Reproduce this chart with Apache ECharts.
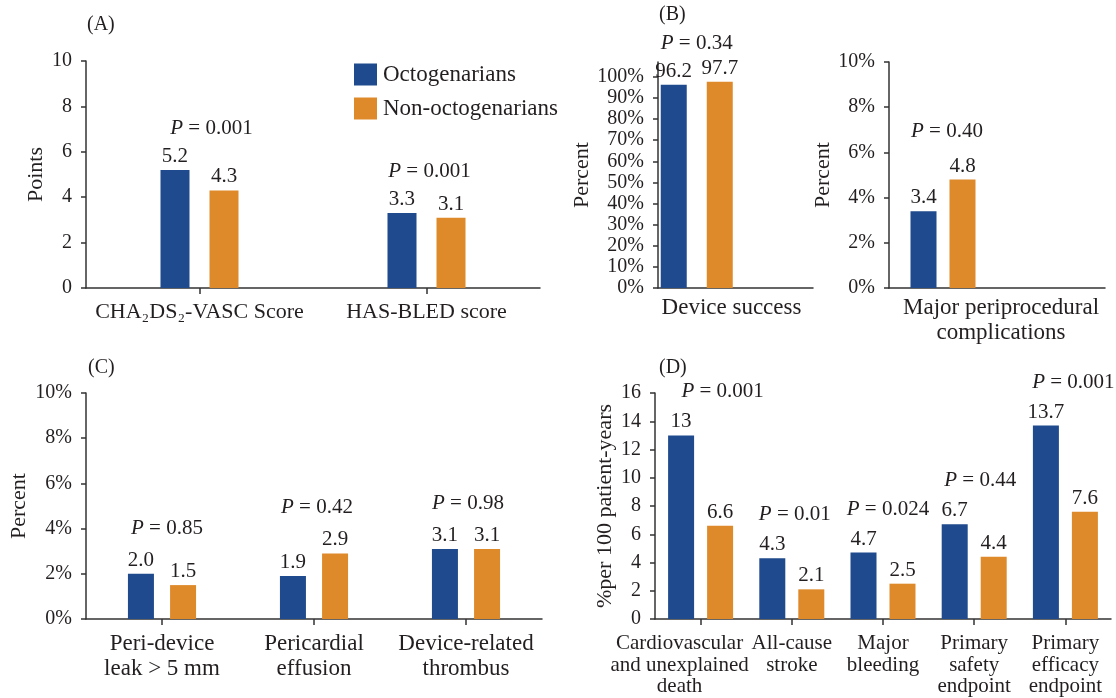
<!DOCTYPE html>
<html>
<head>
<meta charset="utf-8">
<script src="https://cdn.jsdelivr.net/npm/echarts@6/dist/echarts.min.js"></script>
<style>
html,body{margin:0;padding:0;background:#fff;}
#chart{width:1116px;height:698px;}
</style>
</head>
<body>
<div id="chart"></div>
<script>
// ---- Data ----
const seriesNames = ['Octogenarians', 'Non-octogenarians'];

const catsA = ['CHA₂DS₂-VASC Score', 'HAS-BLED score'];
const octoA = [5.2, 3.3];
const nonA = [4.3, 3.1];
const pA = ['0.001', '0.001'];
const ticksA = [0, 2, 4, 6, 8, 10];

const catsB1 = ['Device success'];
const octoB1 = [96.2];
const nonB1 = [97.7];
const pB1 = ['0.34'];
const ticksB1 = [0, 10, 20, 30, 40, 50, 60, 70, 80, 90, 100];

const catsB2 = ['Major periprocedural\ncomplications'];
const octoB2 = [3.4];
const nonB2 = [4.8];
const pB2 = ['0.40'];
const ticksB2 = [0, 2, 4, 6, 8, 10];

const catsC = ['Peri-device\nleak > 5 mm', 'Pericardial\neffusion', 'Device-related\nthrombus'];
const octoC = [2.0, 1.9, 3.1];
const nonC = [1.5, 2.9, 3.1];
const pC = ['0.85', '0.42', '0.98'];
const ticksC = [0, 2, 4, 6, 8, 10];

const catsD = ['Cardiovascular\nand unexplained\ndeath', 'All-cause\nstroke', 'Major\nbleeding', 'Primary\nsafety\nendpoint', 'Primary\nefficacy\nendpoint'];
const octoD = [13, 4.3, 4.7, 6.7, 13.7];
const nonD = [6.6, 2.1, 2.5, 4.4, 7.6];
const pD = ['0.001', '0.01', '0.024', '0.44', '0.001'];
const ticksD = [0, 2, 4, 6, 8, 10, 12, 14, 16];

// ---- Style ----
const FONT = '"Liberation Serif", "DejaVu Serif", serif';
const TXT = '#231f20';
const AX = '#333333';
const BLUE = '#1f4a8d';
const ORANGE = '#df8a2a';
const TICK_FS = 20;
const VAL_FS = 21;

const grids = [], xAxes = [], yAxes = [], series = [];

function panel(cfg) {
  const i = grids.length;
  grids.push(cfg.grid);
  const single = cfg.cats.length === 1;
  const catData = single ? [cfg.cats[0], ''] : cfg.cats.map((c, k) =>
    (cfg.labelPad && cfg.labelPad[k]) ? { value: c, textStyle: { padding: cfg.labelPad[k] } } : c);
  xAxes.push({
    type: 'category', gridIndex: i,
    data: catData,
    axisLine: { show: true, lineStyle: { color: AX, width: 1.5 } },
    axisTick: { show: !single, alignWithLabel: true, length: 6, lineStyle: { color: AX, width: 1.5 } },
    axisLabel: { show: !single, interval: 0, margin: cfg.xMargin || 12, fontSize: cfg.catFs, color: TXT, fontFamily: FONT, lineHeight: cfg.lineHeight || 25 },
    name: single ? cfg.cats[0] : '',
    nameLocation: 'middle', nameGap: cfg.xNameGap || 7,
    nameTextStyle: { fontSize: cfg.catFs, color: TXT, fontFamily: FONT, lineHeight: 25, verticalAlign: 'top', padding: cfg.xNamePad || 0 }
  });
  const ticks = cfg.ticks;
  yAxes.push({
    type: 'value', gridIndex: i, min: 0, max: cfg.max,
    interval: ticks[1] - ticks[0],
    axisLine: { show: true, lineStyle: { color: AX, width: 1.5 } },
    axisTick: { show: true, length: 5, lineStyle: { color: AX, width: 1.5 }, customValues: ticks },
    axisLabel: { fontSize: TICK_FS, color: TXT, fontFamily: FONT, margin: 14, customValues: ticks,
      formatter: v => v + (cfg.pct ? '%' : '') },
    splitLine: { show: false },
    name: cfg.yName, nameLocation: 'middle', nameGap: cfg.yNameGap, nameRotate: 90,
    nameTextStyle: { fontSize: 22, color: TXT, fontFamily: FONT }
  });
  const fmt = cfg.fmt || (v => v.toFixed(1));
  const lbl = { show: true, position: 'top', distance: 3, fontSize: VAL_FS, color: TXT, fontFamily: FONT, formatter: p => fmt(p.value) };
  series.push({
    type: 'bar', name: seriesNames[0], xAxisIndex: i, yAxisIndex: i, data: cfg.octo,
    barWidth: cfg.barWidth, barGap: cfg.barGap, itemStyle: { color: BLUE }, label: lbl
  });
  series.push({
    type: 'bar', name: seriesNames[1], xAxisIndex: i, yAxisIndex: i, data: cfg.non,
    barWidth: cfg.barWidth, barGap: cfg.barGap, itemStyle: { color: ORANGE }, label: lbl
  });
  const pOff = cfg.pShift || [];
  series.push({
    type: 'scatter', xAxisIndex: i, yAxisIndex: i, silent: true, symbolSize: 0,
    itemStyle: { opacity: 1 },
    data: cfg.p.map((p, k) => ({
      value: [k, Math.max(cfg.octo[k], cfg.non[k])],
      label: { offset: [pOff[k] || 0, 0] }
    })),
    label: {
      show: true, position: 'top', distance: cfg.pDist || 33,
      fontSize: VAL_FS, color: TXT, fontFamily: FONT,
      formatter: p => '{i|P} = ' + cfg.p[p.dataIndex],
      rich: { i: { fontStyle: 'italic', fontSize: VAL_FS, color: TXT, fontFamily: FONT } }
    }
  });
}

panel({ grid: { left: 86, top: 61, width: 454, height: 227 }, cats: catsA, octo: octoA, non: nonA, p: pA,
  ticks: ticksA, max: 10, yName: 'Points', yNameGap: 39, barWidth: 29, barGap: '69%',
  pDist: 31, pShift: [12, 3], catFs: 22 });
panel({ grid: { left: 658, top: 62, width: 155, height: 226 }, cats: catsB1, octo: octoB1, non: nonB1, p: pB1,
  ticks: ticksB1, max: 107, pct: true, yName: 'Percent', yNameGap: 64, barWidth: 26, barGap: '77%',
  pDist: 28, catFs: 23, xNamePad: [0, 8, 0, 0] });
panel({ grid: { left: 889, top: 62, width: 216, height: 226 }, cats: catsB2, octo: octoB2, non: nonB2, p: pB2,
  ticks: ticksB2, max: 10, pct: true, yName: 'Percent', yNameGap: 52, barWidth: 26, barGap: '50%',
  pDist: 38, pShift: [4], catFs: 23, xNamePad: [0, 0, 0, 8] });
panel({ grid: { left: 86, top: 393, width: 456, height: 226 }, cats: catsC, octo: octoC, non: nonC, p: pC,
  ticks: ticksC, max: 10, pct: true, yName: 'Percent', yNameGap: 56, barWidth: 26, barGap: '62%',
  pDist: 35, pShift: [5, 3, 2], catFs: 23, lineHeight: 25, xMargin: 12 });
panel({ grid: { left: 655, top: 393, width: 456, height: 226 }, cats: catsD, octo: octoD, non: nonD, p: pD,
  ticks: ticksD, max: 16, yName: '%per 100 patient-years', yNameGap: 39, barWidth: 26, barGap: '50%',
  pDist: 33, pShift: [22, 3, 5, 6, 8], catFs: 21, lineHeight: 21.5, xMargin: 14,
  labelPad: [[0, 42, 0, 0]], fmt: v => String(v) });

const titleStyle = { fontSize: 20, fontWeight: 'normal', color: TXT, fontFamily: FONT };
const option = {
  animation: false,
  backgroundColor: '#fff',
  textStyle: { fontFamily: FONT },
  title: [
    { text: '(A)', left: 87, top: 15, padding: 0, textStyle: titleStyle },
    { text: '(B)', left: 659, top: 5, padding: 0, textStyle: titleStyle },
    { text: '(C)', left: 88, top: 358, padding: 0, textStyle: titleStyle },
    { text: '(D)', left: 659, top: 358, padding: 0, textStyle: titleStyle }
  ],
  legend: {
    data: seriesNames, orient: 'vertical', left: 354, top: 63, padding: 0,
    itemWidth: 23, itemHeight: 22, itemGap: 11, icon: 'rect',
    textStyle: { fontSize: 23, color: TXT, fontFamily: FONT, padding: [0, 0, 0, 1] }
  },
  grid: grids, xAxis: xAxes, yAxis: yAxes, series: series
};
const chart = echarts.init(document.getElementById('chart'), null, { renderer: 'canvas' });
chart.setOption(option);
</script>
</body>
</html>
